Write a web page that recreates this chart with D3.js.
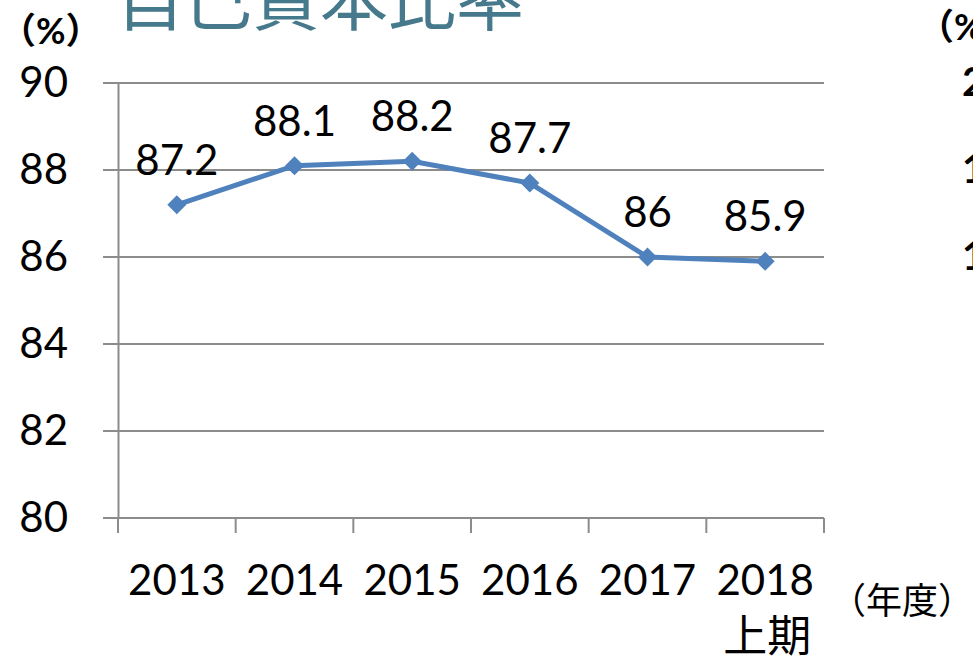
<!DOCTYPE html>
<html>
<head>
<meta charset="utf-8">
<script src="https://cdn.jsdelivr.net/npm/d3@7"></script>
<style>
  body { margin: 0; background: #fff; }
  svg { display: block; }
  text { font-family: Lato, "Noto Sans CJK JP", sans-serif; }
</style>
</head>
<body>
<svg id="chart" width="973" height="658"></svg>
<script>
const years = ["2013", "2014", "2015", "2016", "2017", "2018"];
const subLabels = ["", "", "", "", "", "上期"];
const ratios = [87.2, 88.1, 88.2, 87.7, 86, 85.9];
const yTicks = [80, 82, 84, 86, 88, 90];
// cut-off axis labels of the neighbouring chart
const rightLabels = ["20", "15", "10"];
const rightTickAt = [90, 88, 86];

const svg = d3.select("#chart");
const lineColor = "#4f81bd";
const gridColor = "#8c8c8c";
const cjk = "'Noto Sans CJK JP', sans-serif";
const numSize = 42;

const plotLeft = 118, plotRight = 824, plotTop = 83, plotBottom = 518;

const x = d3.scaleBand().domain(years).range([plotLeft, plotRight]);
const y = d3.scaleLinear().domain([80, 90]).range([plotBottom, plotTop]);

// title (cut off at the top)
svg.append("text")
  .attr("x", 116)
  .attr("y", 25)
  .attr("font-family", cjk)
  .attr("font-size", 68)
  .attr("fill", "#46798b")
  .text("自己資本比率");

svg.append("text")
  .attr("x", 0)
  .attr("y", 44)
  .attr("font-family", cjk)
  .attr("font-size", 36)
  .attr("font-weight", "bold")
  .text("（%）");

// gridlines
svg.append("g")
  .selectAll("line")
  .data(yTicks)
  .join("line")
  .attr("x1", plotLeft - 15)
  .attr("x2", plotRight)
  .attr("y1", (d) => y(d))
  .attr("y2", (d) => y(d))
  .attr("stroke", gridColor)
  .attr("stroke-width", 2);

// y axis
const yAxis = svg.append("g")
  .attr("transform", `translate(${plotLeft},0)`)
  .call(d3.axisLeft(y).tickValues(yTicks).tickSize(0).tickPadding(50));
yAxis.select(".domain").attr("stroke", gridColor).attr("stroke-width", 2);
yAxis.selectAll("text")
  .attr("font-family", "Lato, sans-serif")
  .attr("font-size", numSize)
  .attr("fill", "#000");

// x axis
const xTickPos = d3.range(years.length + 1).map((i) => plotLeft + i * x.step());
svg.append("g")
  .selectAll("line")
  .data(xTickPos)
  .join("line")
  .attr("x1", (d) => d)
  .attr("x2", (d) => d)
  .attr("y1", plotBottom)
  .attr("y2", plotBottom + 15)
  .attr("stroke", gridColor)
  .attr("stroke-width", 2);

svg.append("g")
  .selectAll("text")
  .data(years)
  .join("text")
  .attr("x", (d) => x(d) + x.bandwidth() / 2)
  .attr("y", 595)
  .attr("text-anchor", "middle")
  .attr("font-size", numSize)
  .text((d) => d);

svg.append("g")
  .selectAll("text")
  .data(subLabels)
  .join("text")
  .attr("x", (d, i) => x(years[i]) + x.bandwidth() / 2 + 46)
  .attr("y", 652)
  .attr("text-anchor", "end")
  .attr("font-family", cjk)
  .attr("font-size", 44)
  .text((d) => d);

svg.append("text")
  .attr("x", 830)
  .attr("y", 614)
  .attr("font-family", cjk)
  .attr("font-size", 36)
  .text("（年度）");

// line
const line = d3.line()
  .x((d, i) => x(years[i]) + x.bandwidth() / 2)
  .y((d) => y(d));

svg.append("path")
  .datum(ratios)
  .attr("fill", "none")
  .attr("stroke", lineColor)
  .attr("stroke-width", 5)
  .attr("d", line);

svg.append("g")
  .selectAll("path")
  .data(ratios)
  .join("path")
  .attr("transform", (d, i) => `translate(${x(years[i]) + x.bandwidth() / 2},${y(d)})`)
  .attr("d", "M0,-9.5L9.5,0L0,9.5L-9.5,0Z")
  .attr("fill", lineColor);

// data labels
svg.append("g")
  .selectAll("text")
  .data(ratios)
  .join("text")
  .attr("x", (d, i) => x(years[i]) + x.bandwidth() / 2)
  .attr("y", (d) => y(d) - 30)
  .attr("text-anchor", "middle")
  .attr("font-size", numSize)
  .text((d) => d);

// neighbouring chart, mostly off-canvas
svg.append("text")
  .attr("x", 918)
  .attr("y", 40)
  .attr("font-family", cjk)
  .attr("font-size", 36)
  .attr("font-weight", "bold")
  .text("（%）");

svg.append("g")
  .selectAll("text")
  .data(rightLabels)
  .join("text")
  .attr("x", 962)
  .attr("y", (d, i) => y(rightTickAt[i]) + 13)
  .attr("font-size", 40)
  .attr("font-weight", "bold")
  .text((d) => d);
</script>
</body>
</html>
